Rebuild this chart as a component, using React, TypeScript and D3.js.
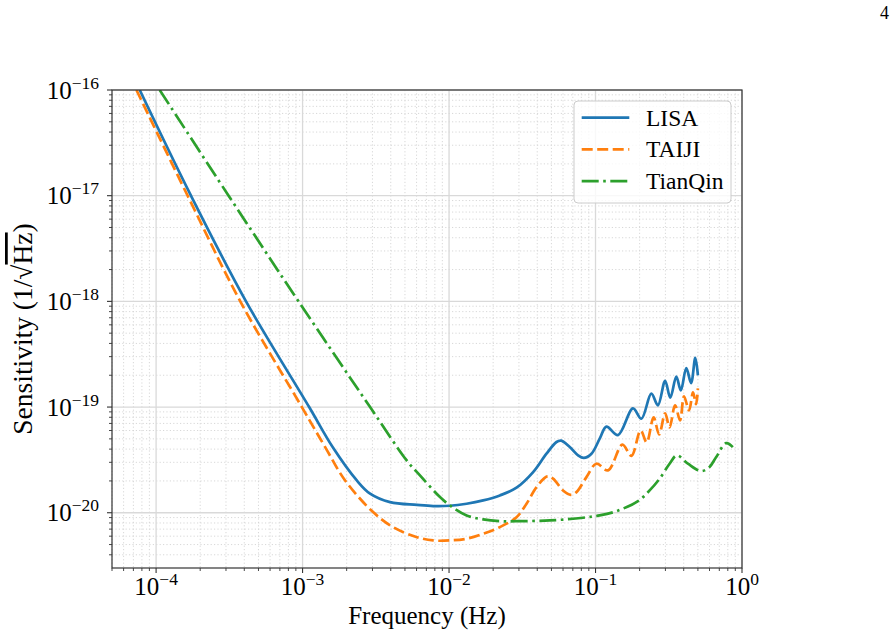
import * as d3 from "d3";

// LISA sensitivity (Hz, 1/sqrt(Hz))
const lisaFreq = [
  7.73e-5, 1.73e-4, 4.11e-4, 1.109e-3, 1.604e-3, 2.345e-3, 2.89e-3, 3.955e-3,
  6.04e-3, 7.8e-3, 1.014e-2, 1.318e-2, 1.71e-2, 2.223e-2, 2.889e-2, 3.75e-2,
  4.627e-2, 5.414e-2, 5.835e-2, 6.67e-2, 7.6e-2, 8.31e-2, 9.38e-2, 0.1068,
  0.1187, 0.1423, 0.1802, 0.2056, 0.2405, 0.2667, 0.2986, 0.3241, 0.356,
  0.3823, 0.4166, 0.4492, 0.4798, 0.5,
];
const lisaSens = [
  1e-16, 1e-17, 1e-18, 1e-19, 4.18e-20, 2.02e-20, 1.514e-20, 1.259e-20,
  1.186e-20, 1.156e-20, 1.164e-20, 1.217e-20, 1.309e-20, 1.459e-20, 1.726e-20,
  2.423e-20, 3.62e-20, 4.67e-20, 4.81e-20, 4.18e-20, 3.49e-20, 3.3e-20,
  3.62e-20, 5.02e-20, 6.52e-20, 5.43e-20, 9.73e-20, 7.76e-20, 1.339e-19,
  1.038e-19, 1.77e-19, 1.227e-19, 1.941e-19, 1.439e-19, 2.339e-19, 1.686e-19,
  2.924e-19, 1.995e-19,
];

const taijiFreq = [
  7.34e-5, 1.642e-4, 3.755e-4, 9.89e-4, 1.426e-3, 1.952e-3, 3.03e-3, 4.146e-3,
  6.04e-3, 7.8e-3, 1.014e-2, 1.318e-2, 1.71e-2, 2.223e-2, 2.889e-2, 3.381e-2,
  3.956e-2, 4.687e-2, 5.13e-2, 6.0e-2, 6.78e-2, 7.41e-2, 8.67e-2, 0.1014,
  0.1217, 0.1526, 0.1757, 0.2033, 0.2234, 0.2492, 0.2717, 0.2986, 0.3203,
  0.3491, 0.3776, 0.402, 0.4349, 0.463, 0.4854, 0.5,
];
const taijiSens = [
  1e-16, 1e-17, 1e-18, 1e-19, 4.18e-20, 2.02e-20, 1.014e-20, 7.31e-21,
  5.87e-21, 5.47e-21, 5.47e-21, 5.68e-21, 6.33e-21, 7.31e-21, 9.08e-21,
  1.217e-20, 1.746e-20, 2.208e-20, 2.1e-20, 1.626e-20, 1.479e-20, 1.567e-20,
  2.173e-20, 2.911e-20, 2.518e-20, 4.41e-20, 3.45e-20, 6.01e-20, 4.63e-20,
  7.98e-20, 5.51e-20, 8.71e-20, 6.43e-20, 1.038e-19, 7.48e-20, 1.262e-19,
  9.31e-20, 1.377e-19, 1.063e-19, 1.503e-19,
];

const tianqinFreq = [
  1.058e-4, 3.126e-4, 9.38e-4, 2.89e-3, 5.14e-3, 6.33e-3, 8.67e-3, 1.014e-2,
  1.318e-2, 1.71e-2, 2.223e-2, 2.889e-2, 4.873e-2, 8.22e-2, 0.1068, 0.1388,
  0.1949, 0.2341, 0.2739, 0.3203, 0.3593, 0.4272, 0.5272, 0.5985, 0.6671,
  0.7803, 0.8657,
];
const tianqinSens = [
  1e-16, 1e-17, 1e-18, 1e-19, 3.126e-20, 2.254e-20, 1.406e-20, 1.172e-20,
  9.43e-21, 8.65e-21, 8.32e-21, 8.32e-21, 8.45e-21, 8.97e-21, 9.43e-21,
  1.035e-20, 1.288e-20, 1.626e-20, 2.1e-20, 2.911e-20, 3.49e-20, 2.911e-20,
  2.477e-20, 2.7e-20, 3.37e-20, 4.56e-20, 4.18e-20,
];

const seriesNames = ["LISA", "TAIJI", "TianQin"];
const seriesColors = ["#1f77b4", "#ff7f0e", "#2ca02c"];
const seriesDash = [null, "11,4.5", "17,4.5,2.6,4.5"];

const xTicks = [1e-4, 1e-3, 1e-2, 1e-1, 1];
const xTickExp = ["\u22124", "\u22123", "\u22122", "\u22121", "0"];
const yTicks = [1e-20, 1e-19, 1e-18, 1e-17, 1e-16];
const yTickExp = ["\u221220", "\u221219", "\u221218", "\u221217", "\u221216"];

const W = 895;
const H = 636;
const left = 112;
const right = 742;
const top = 90;
const bottom = 568;
const FONT = "'Liberation Serif', 'Times New Roman', serif";

export default function App() {
  const x = d3.scaleLog().domain([5e-5, 1]).range([left, right]);
  const y = d3.scaleLog().domain([3e-21, 1e-16]).range([bottom, top]);

  const line = d3
    .line<[number, number]>()
    .x((d) => x(d[0]))
    .y((d) => y(d[1]))
    .curve(d3.curveCatmullRom.alpha(0.5));

  const series = [
    d3.zip(lisaFreq, lisaSens) as [number, number][],
    d3.zip(taijiFreq, taijiSens) as [number, number][],
    d3.zip(tianqinFreq, tianqinSens) as [number, number][],
  ];

  // minor ticks, 2..9 in each decade
  const xMinor: number[] = [];
  for (let e = -5; e <= 0; e++)
    for (let m = 2; m <= 9; m++) {
      const v = m * Math.pow(10, e);
      if (v >= 5e-5 && v <= 1) xMinor.push(v);
    }
  const yMinor: number[] = [];
  for (let e = -21; e <= -17; e++)
    for (let m = 2; m <= 9; m++) {
      const v = m * Math.pow(10, e);
      if (v >= 3e-21 && v <= 1e-16) yMinor.push(v);
    }

  const legendX = 574;
  const legendY = 101;

  return (
    <svg
      width={W}
      height={H}
      style={{ position: "absolute", left: 0, top: 0, background: "#fff" }}
      fontFamily={FONT}
    >
      <defs>
        <clipPath id="plot">
          <rect x={left} y={top} width={right - left} height={bottom - top} />
        </clipPath>
      </defs>
      <rect x={0} y={0} width={W} height={H} fill="#fff" />

      {/* page number */}
      <text x={889} y={19} fontSize={18} textAnchor="end" fill="#000">
        4
      </text>

      {/* minor grid */}
      {xMinor.map((v, i) => (
        <line
          key={"xm" + i}
          x1={x(v)}
          x2={x(v)}
          y1={top}
          y2={bottom}
          stroke="#d4d4d4"
          strokeWidth={0.9}
          strokeDasharray="1.2,2.2"
        />
      ))}
      {yMinor.map((v, i) => (
        <line
          key={"ym" + i}
          x1={left}
          x2={right}
          y1={y(v)}
          y2={y(v)}
          stroke="#d4d4d4"
          strokeWidth={0.9}
          strokeDasharray="1.2,2.2"
        />
      ))}
      {/* major grid */}
      {xTicks.map((v, i) => (
        <line key={"xg" + i} x1={x(v)} x2={x(v)} y1={top} y2={bottom} stroke="#d9d9d9" strokeWidth={1.3} />
      ))}
      {yTicks.map((v, i) => (
        <line key={"yg" + i} x1={left} x2={right} y1={y(v)} y2={y(v)} stroke="#d9d9d9" strokeWidth={1.3} />
      ))}

      {/* curves */}
      <g clipPath="url(#plot)">
        {series.map((s, i) => (
          <path
            key={seriesNames[i]}
            d={line(s) ?? ""}
            fill="none"
            stroke={seriesColors[i]}
            strokeWidth={2.7}
            strokeDasharray={seriesDash[i] ?? undefined}
            strokeLinejoin="round"
          />
        ))}
      </g>

      {/* frame */}
      <rect
        x={left}
        y={top}
        width={right - left}
        height={bottom - top}
        fill="none"
        stroke="#333"
        strokeWidth={1.2}
      />

      {/* ticks */}
      {xMinor.map((v, i) => (
        <line key={"xmt" + i} x1={x(v)} x2={x(v)} y1={bottom} y2={bottom + 3} stroke="#333" strokeWidth={0.9} />
      ))}
      {yMinor.map((v, i) => (
        <line key={"ymt" + i} x1={left - 3} x2={left} y1={y(v)} y2={y(v)} stroke="#333" strokeWidth={0.9} />
      ))}
      {xTicks.map((v, i) => (
        <g key={"xt" + i}>
          <line x1={x(v)} x2={x(v)} y1={bottom} y2={bottom + 5} stroke="#333" strokeWidth={1.1} />
          <text x={x(v)} y={595} textAnchor="middle" fontSize={25} fill="#000">
            10
            <tspan dy={-10} fontSize={17.5}>
              {xTickExp[i]}
            </tspan>
          </text>
        </g>
      ))}
      {yTicks.map((v, i) => (
        <g key={"yt" + i}>
          <line x1={left - 5} x2={left} y1={y(v)} y2={y(v)} stroke="#333" strokeWidth={1.1} />
          <text x={99} y={y(v) + 8.5} textAnchor="end" fontSize={25} fill="#000">
            10
            <tspan dy={-10} fontSize={17.5}>
              {yTickExp[i]}
            </tspan>
          </text>
        </g>
      ))}

      {/* axis labels */}
      <text x={(left + right) / 2} y={624} textAnchor="middle" fontSize={25} fill="#000">
        Frequency (Hz)
      </text>
      <text
        transform={`translate(32,${(top + bottom) / 2}) rotate(-90)`}
        textAnchor="middle"
        fontSize={27.5}
        fill="#000"
      >
        Sensitivity (1/{"\u221A"}
        <tspan style={{ textDecoration: "overline" }}>Hz</tspan>)
      </text>

      {/* legend */}
      <rect
        x={legendX}
        y={legendY}
        width={157}
        height={102}
        rx={4}
        fill="#fff"
        fillOpacity={0.8}
        stroke="#cccccc"
        strokeWidth={1}
      />
      {seriesNames.map((name, i) => {
        const ly = 117.7 + i * 31.7;
        return (
          <g key={"lg" + name}>
            <line
              x1={581.7}
              x2={629.3}
              y1={ly}
              y2={ly}
              stroke={seriesColors[i]}
              strokeWidth={2.7}
              strokeDasharray={seriesDash[i] ?? undefined}
            />
            <text x={646} y={ly + 8} fontSize={23.5} fill="#000">
              {name}
            </text>
          </g>
        );
      })}
    </svg>
  );
}
